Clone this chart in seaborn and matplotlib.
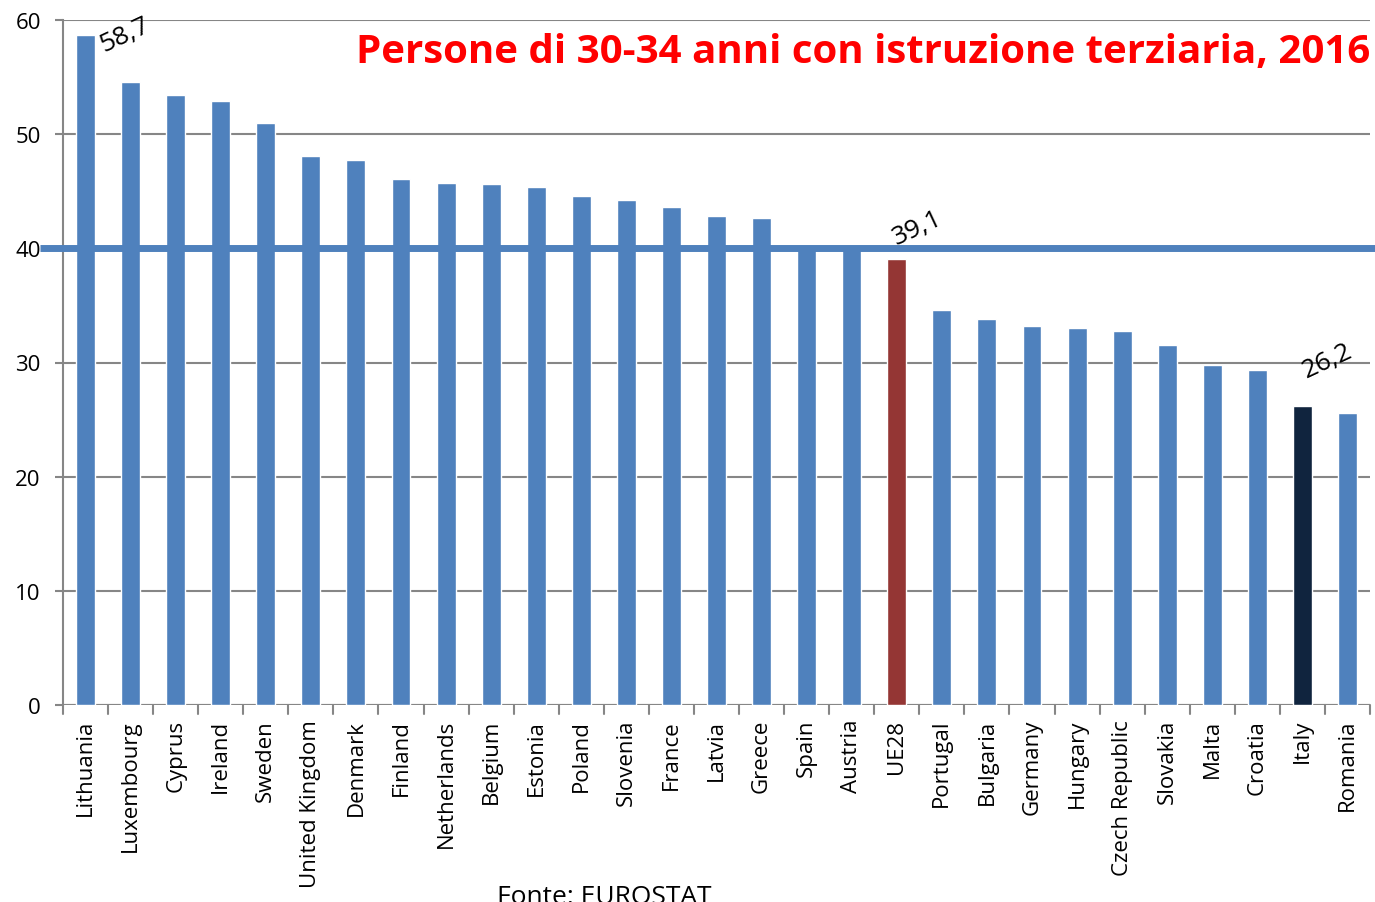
import matplotlib
matplotlib.use("Agg")
import matplotlib.pyplot as plt
import seaborn as sns
import pandas as pd

# dati: persone 30-34 anni con istruzione terziaria, 2016
paesi = ["Lithuania", "Luxembourg", "Cyprus", "Ireland", "Sweden", "United Kingdom",
         "Denmark", "Finland", "Netherlands", "Belgium", "Estonia", "Poland",
         "Slovenia", "France", "Latvia", "Greece", "Spain", "Austria", "UE28",
         "Portugal", "Bulgaria", "Germany", "Hungary", "Czech Republic", "Slovakia",
         "Malta", "Croatia", "Italy", "Romania"]
valori = [58.7, 54.6, 53.4, 52.9, 51.0, 48.1, 47.7, 46.1, 45.7, 45.6, 45.4, 44.6,
          44.2, 43.6, 42.8, 42.7, 40.1, 40.1, 39.1, 34.6, 33.8, 33.2, 33.0, 32.8,
          31.5, 29.8, 29.3, 26.2, 25.6]
obiettivo = 40
etichette = {"Lithuania": "58,7", "UE28": "39,1", "Italy": "26,2"}
# spostamento delle etichette (categorie, punti percentuali)
spost = {"Lithuania": (0.87, 0.0), "UE28": (0.45, 2.7), "Italy": (0.55, 4.0)}

blu = "#4F81BD"
colori = {p: blu for p in paesi}
colori["UE28"] = "#943634"
colori["Italy"] = "#10243E"

df = pd.DataFrame({"paese": paesi, "valore": valori})

sns.set_style("white")
plt.rcParams["font.family"] = ["Open Sans", "DejaVu Sans"]
plt.rcParams["text.color"] = "black"
plt.rcParams["xtick.color"] = "black"
plt.rcParams["ytick.color"] = "black"

fig = plt.figure(figsize=(13.75, 9.03), dpi=100)
ax = fig.add_axes([63 / 1375, 1 - 706 / 903, (1370 - 63) / 1375, (706 - 21) / 903])

sns.barplot(data=df, x="paese", y="valore", hue="paese", palette=colori,
            saturation=1, width=0.42, legend=False, ax=ax, zorder=3)

ax.set_ylim(0, 60)
ax.set_xlim(-0.5, len(paesi) - 0.5)
ax.set_yticks(range(0, 61, 10))
ax.yaxis.grid(True, color="#868686", linewidth=1.5, zorder=0)
ax.set_axisbelow(True)
for s in ["top", "right", "bottom"]:
    ax.spines[s].set_visible(False)
ax.spines["left"].set_color("#868686")
ax.spines["left"].set_linewidth(1.5)
ax.axhline(0, color="#868686", linewidth=1.5, zorder=2)

# linea obiettivo 40%
ax.plot([-1.0, len(paesi) + 0.2], [obiettivo, obiettivo], color=blu, linewidth=5,
        zorder=4, clip_on=False, solid_capstyle="butt")

ax.set_xticks(range(len(paesi)))
ax.set_xticklabels(paesi, rotation=90, fontsize=16)
ax.tick_params(axis="x", length=0, pad=10, labelcolor="black")
ax.tick_params(axis="y", labelsize=16, left=True, length=6, color="#868686", width=1.5,
               pad=10, labelcolor="black")
for i in range(len(paesi) + 1):
    ax.plot([i - 0.5, i - 0.5], [0, -0.8], color="#868686", linewidth=1.5,
            clip_on=False, zorder=2)
ax.set_xlabel("")
ax.set_ylabel("")

for p, testo in etichette.items():
    i = paesi.index(p)
    dx, dy = spost[p]
    ax.text(i + dx, valori[i] + dy, testo, rotation=25, fontsize=19, color="black",
            ha="center", va="center", zorder=5)

fig.text(1370 / 1375, 1 - 52 / 903, "Persone di 30-34 anni con istruzione terziaria, 2016",
         color="#FF0000", fontsize=29, fontweight="bold", ha="right", va="center")
fig.text(497 / 1375, 1 - 898 / 903, "Fonte: EUROSTAT", fontsize=19, color="black",
         ha="left", va="center")

fig.savefig("out.png", dpi=100)
